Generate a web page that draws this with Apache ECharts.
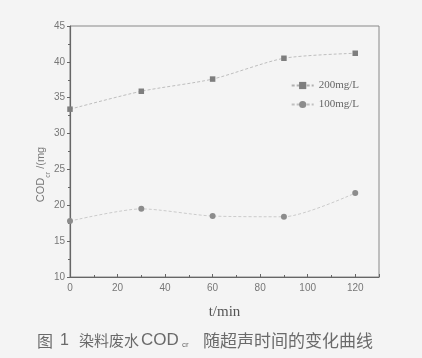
<!DOCTYPE html>
<html><head><meta charset="utf-8">
<script src="https://cdn.jsdelivr.net/npm/echarts@6/dist/echarts.min.js"></script>
<style>html,body{margin:0;padding:0;background:#f4f4f4}#c{width:422px;height:358px}</style>
</head><body><div id="c"></div>
<script>
var times = [0, 30, 60, 90, 120];
var cod200 = [33.4, 35.9, 37.6, 40.5, 41.2];
var cod100 = [17.8, 19.5, 18.5, 18.4, 21.7];
var seriesNames = ['200mg/L', '100mg/L'];
var xTicks = [0, 20, 40, 60, 80, 100, 120];
var yTicks = [10, 15, 20, 25, 30, 35, 40, 45];
var captionParts = ['图', '1', '染料废水', 'COD', 'cr', '随超声时间的变化曲线'];

function pairs(xs, ys){ return xs.map(function(x,i){return [x, ys[i]];}); }
var chart = echarts.init(document.getElementById('c'));
var axisColor = '#666';
var capFill = '#6a6a6a';
var cjk = '"Noto Sans CJK SC"';
chart.setOption({
  backgroundColor: '#f4f4f4',
  animation: false,
  grid: {left: 70, right: 43, top: 26, bottom: 81, show: true, borderColor: '#888', borderWidth: 1, backgroundColor: 'transparent'},
  legend: {
    right: 58, top: 75, orient: 'vertical', itemGap: 8, itemWidth: 22, itemHeight: 9,
    textStyle: {fontFamily: 'Liberation Serif', fontSize: 11, color: '#666'},
    data: seriesNames
  },
  xAxis: {
    type: 'value', min: 0, max: 130, interval: 20,
    name: 't/min', nameLocation: 'middle', nameGap: 28, nameMoveOverlap: false,
    nameTextStyle: {fontFamily: 'Liberation Serif', fontSize: 15, color: '#555'},
    axisLine: {lineStyle: {color: axisColor, width: 1.2}},
    axisTick: {inside: true, length: 3, lineStyle: {color: axisColor}},
    minorTick: {show: true, splitNumber: 2, length: 2, lineStyle: {color: axisColor}},
    axisLabel: {fontFamily: 'Liberation Sans', fontSize: 10, color: '#777', margin: 6,
      formatter: function(v){ return xTicks.indexOf(v) >= 0 ? v : ''; }},
    splitLine: {show: false}
  },
  yAxis: {
    type: 'value', min: 10, max: 45, interval: 5,
    name: '{a|COD}{s|cr}{a| /(mg}', nameLocation: 'middle', nameGap: 24, nameRotate: 90, nameMoveOverlap: false,
    nameTextStyle: {padding: [0, 46, 0, 0],
      rich: {a: {fontFamily: 'Liberation Sans', fontSize: 11, color: '#777'},
             s: {fontFamily: 'Liberation Sans', fontSize: 7, color: '#777', verticalAlign: 'bottom', padding: [0,0,-6,0]}}},
    axisLine: {show: true, lineStyle: {color: axisColor, width: 1.2}},
    axisTick: {show: true, length: 3, lineStyle: {color: axisColor}},
    minorTick: {show: true, splitNumber: 2, length: 2, lineStyle: {color: axisColor}},
    axisLabel: {fontFamily: 'Liberation Sans', fontSize: 10, color: '#777', margin: 5,
      formatter: function(v){ return yTicks.indexOf(v) >= 0 ? v : ''; }},
    splitLine: {show: false}
  },
  series: [
    {name: seriesNames[0], type: 'line', smooth: 0.25, data: pairs(times, cod200),
     symbol: 'rect', symbolSize: 5.5,
     itemStyle: {color: '#7e7e7e'},
     lineStyle: {color: '#b0b0b0', width: 0.8, type: [3, 2]}},
    {name: seriesNames[1], type: 'line', smooth: 0.25, data: pairs(times, cod100),
     symbol: 'circle', symbolSize: 6,
     itemStyle: {color: '#8c8c8c'},
     lineStyle: {color: '#c0c0c0', width: 0.8, type: [3, 2]}}
  ],
  graphic: [
    {type: 'text', left: 37, top: 333, style: {text: captionParts[0], font: '16px ' + cjk, fill: capFill}},
    {type: 'text', left: 60, top: 333, style: {text: captionParts[1], font: '16px "Liberation Sans"', fill: capFill}},
    {type: 'text', left: 79, top: 333, style: {text: captionParts[2], font: '15px ' + cjk, fill: capFill}},
    {type: 'text', left: 141, top: 332, style: {text: captionParts[3], font: '17px "Liberation Sans"', fill: capFill}},
    {type: 'text', left: 182, top: 341, style: {text: captionParts[4], font: '8px "Liberation Sans"', fill: capFill}},
    {type: 'text', left: 203, top: 332, style: {text: captionParts[5], font: '17px ' + cjk, fill: capFill}}
  ]
});
</script></body></html>
